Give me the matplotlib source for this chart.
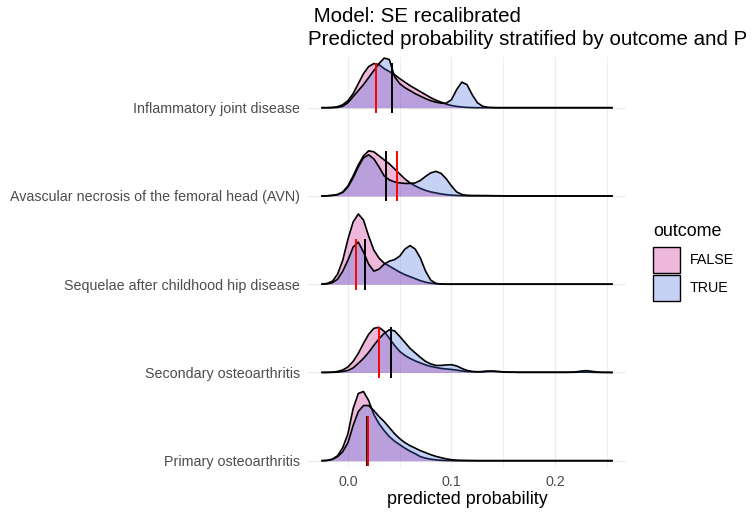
import numpy as np
import matplotlib
matplotlib.use("Agg")
import matplotlib.pyplot as plt
from matplotlib.patches import Patch
from matplotlib.colors import to_rgba

plt.rcParams["font.family"] = ["Liberation Sans", "DejaVu Sans"]

# Ridge rows, bottom to top
CATEGORIES = [
    "Primary osteoarthritis",
    "Secondary osteoarthritis",
    "Sequelae after childhood hip disease",
    "Avascular necrosis of the femoral head (AVN)",
    "Inflammatory joint disease",
]

X_GRID = np.round(np.arange(-0.025, 0.2551, 0.005), 3)

DENS_FALSE = {
    "Primary osteoarthritis": [
        0, 0.3, 1.5, 5, 13, 27, 52, 67, 69, 60,
        46, 37, 30, 24, 19.5, 16, 12.5, 9.5, 7, 4,
        2.5, 1.5, 0.8, 0.4, 0.2, 0.1] + [0] * 31,
    "Secondary osteoarthritis": [
        0, 0.1, 0.3, 1, 2.5, 5.5, 11, 19, 29, 38,
        44, 45, 41, 34, 27, 21, 17, 14, 11.5, 9.5,
        7.5, 6, 5, 4, 3.5, 3, 2.3, 1.5, 1, 0.7,
        0.6, 0.8, 1.2, 1.2, 0.8, 0.4, 0.2, 0.2, 0.1, 0.1,
        0.1, 0.1, 0.1, 0.1, 0.1, 0.1, 0.1, 0.1, 0.1, 0.2,
        0.3, 0.3, 0.2, 0.1, 0, 0, 0],
    "Sequelae after childhood hip disease": [
        0.1, 0.8, 3, 10, 24, 45, 62, 70, 64, 48,
        34, 26, 21, 18, 15, 12, 9.5, 7.5, 5.5, 3.5,
        2, 1, 0.5, 0.2] + [0] * 33,
    "Avascular necrosis of the femoral head (AVN)": [
        0, 0.2, 0.6, 1.5, 4, 10, 20, 31, 40, 45,
        44, 40, 36, 32, 27, 22, 17, 13, 10, 7.5,
        5.5, 4, 3, 2, 1.3, 0.8, 0.5, 0.3, 0.2, 0.2,
        0.2, 0.2, 0.2, 0.1, 0.1] + [0] * 22,
    "Inflammatory joint disease": [
        0, 0, 0.3, 1, 3, 7, 14, 24, 34, 41,
        44, 43, 39, 36, 33, 29, 25.5, 22, 19, 16,
        13, 10, 7.5, 5.5, 3.5, 2.2, 1.3, 0.7, 0.3, 0.1] + [0] * 27,
}

DENS_TRUE = {
    "Primary osteoarthritis": [
        0, 0.3, 1.3, 4, 9, 18, 35, 49, 55, 55,
        50, 44, 39, 33, 27, 22, 18, 15, 12.5, 10,
        8, 6, 4.3, 3, 1.8, 1, 0.5, 0.3, 0.2, 0.1] + [0] * 27,
    "Secondary osteoarthritis": [
        0, 0, 0.1, 0.3, 1, 2, 4.5, 9, 14, 20,
        27, 33.5, 39, 42.5, 41.5, 36, 30, 24, 19.5, 15,
        11, 8.5, 7, 7, 7.5, 7.7, 6.5, 4, 2, 1,
        0.7, 0.8, 1.2, 1.3, 1, 0.6, 0.4, 0.3, 0.2, 0.2,
        0.2, 0.2, 0.2, 0.2, 0.2, 0.2, 0.2, 0.2, 0.3, 0.6,
        1.3, 1.8, 1.2, 0.5, 0.2, 0.1, 0],
    "Sequelae after childhood hip disease": [
        0, 0.3, 1.5, 5, 13, 24, 37, 42, 32, 20,
        13, 15, 20, 23, 24.5, 28, 35, 38.5, 35, 26,
        13, 4, 0.8, 0.1] + [0] * 33,
    "Avascular necrosis of the femoral head (AVN)": [
        0, 0.1, 0.5, 1.3, 3.5, 9, 18, 29, 38, 41,
        37, 29, 20, 16, 14, 13, 12.5, 12.5, 13, 15.5,
        19.5, 23, 24.5, 22.5, 17, 10, 4, 1.5, 0.6, 0.4,
        0.4, 0.3, 0.3, 0.2, 0.2, 0.1] + [0] * 21,
    "Inflammatory joint disease": [
        0, 0, 0, 0.3, 1.5, 5, 11, 17, 23, 30,
        37, 44, 49.5, 48, 31, 24, 20, 17, 14, 11.5,
        9, 7, 5.5, 4.5, 4.5, 8, 18, 25.5, 23, 13,
        5, 1.5, 0.4, 0.1] + [0] * 23,
}

# median predicted probability per group
MEDIAN_FALSE = [0.0195, 0.030, 0.0074, 0.047, 0.027]
MEDIAN_TRUE = [0.018, 0.042, 0.0165, 0.037, 0.043]

SCALE = 1 / 88.0  # density units -> row height
COL_FALSE = "mediumvioletred"
COL_TRUE = "royalblue"
ALPHA = 0.3
TXT = 10.3  # axis / legend text size

fig = plt.figure(figsize=(7.53, 5.12), dpi=100)
ax = fig.add_axes([308 / 753, 1 - 467 / 512, 318 / 753, 410 / 512])

rows = np.arange(1, len(CATEGORIES) + 1)

# grid (theme_minimal look)
for xv in [0.0, 0.1, 0.2]:
    ax.axvline(xv, color="#EBEBEB", lw=0.9, zorder=0)
for xv in [0.05, 0.15, 0.25]:
    ax.axvline(xv, color="#EBEBEB", lw=0.6, zorder=0)
for r in rows:
    ax.axhline(r, color="#EBEBEB", lw=0.9, zorder=0)

# draw top row first so lower rows sit on top
for i in range(len(CATEGORIES) - 1, -1, -1):
    cat = CATEGORIES[i]
    r = rows[i]
    z = 10 + (len(CATEGORIES) - i) * 3
    for dens, col in [(DENS_FALSE[cat], COL_FALSE), (DENS_TRUE[cat], COL_TRUE)]:
        y = r + np.array(dens) * SCALE
        ax.fill_between(X_GRID, r, y, color=col, alpha=ALPHA, lw=0, zorder=z)
        ax.plot(X_GRID, y, color="black", lw=1.2, zorder=z + 0.5,
                solid_joinstyle="round")
        z += 1

# median segments
for i, r in enumerate(rows):
    ax.plot([MEDIAN_TRUE[i]] * 2, [r - 0.05, r + 0.5], color="black", lw=1.4, zorder=40)
    ax.plot([MEDIAN_FALSE[i]] * 2, [r - 0.05, r + 0.5], color="red", lw=1.4, zorder=41)

ax.set_xlim(-0.0386, 0.2686)
ax.set_ylim(0.9286, 0.9286 + 410 / 88.25)
ax.set_xticks([0.0, 0.1, 0.2])
ax.set_xticklabels(["0.0", "0.1", "0.2"])
ax.set_yticks(rows)
ax.set_yticklabels(CATEGORIES)
ax.tick_params(axis="both", length=0, labelsize=TXT, colors="#4D4D4D")
ax.tick_params(axis="y", pad=6)
ax.tick_params(axis="x", pad=5.5)
for s in ax.spines.values():
    s.set_visible(False)
ax.set_xlabel("predicted probability", fontsize=12.9, color="black", labelpad=2)

fig.text(308 / 753, 1 - 22 / 512, " Model: SE recalibrated",
         fontsize=14.8, ha="left", va="baseline")
fig.text(308 / 753, 1 - 45 / 512, "Predicted probability stratified by outcome and P",
         fontsize=14.8, ha="left", va="baseline")

fig.text(653 / 753, 1 - 231 / 512, "outcome", fontsize=12.9, ha="left", va="center")
handles = [
    Patch(facecolor=to_rgba(COL_FALSE, ALPHA), edgecolor="black", linewidth=1.0, label="FALSE"),
    Patch(facecolor=to_rgba(COL_TRUE, ALPHA), edgecolor="black", linewidth=1.0, label="TRUE"),
]
leg = fig.legend(handles=handles, loc="upper left",
                 bbox_to_anchor=(653 / 753, 1 - 247 / 512), frameon=False,
                 fontsize=TXT, handlelength=1.86, handleheight=2.42,
                 handletextpad=0.7, labelspacing=0.14, borderpad=0, borderaxespad=0)

fig.savefig("out.png", dpi=100)
